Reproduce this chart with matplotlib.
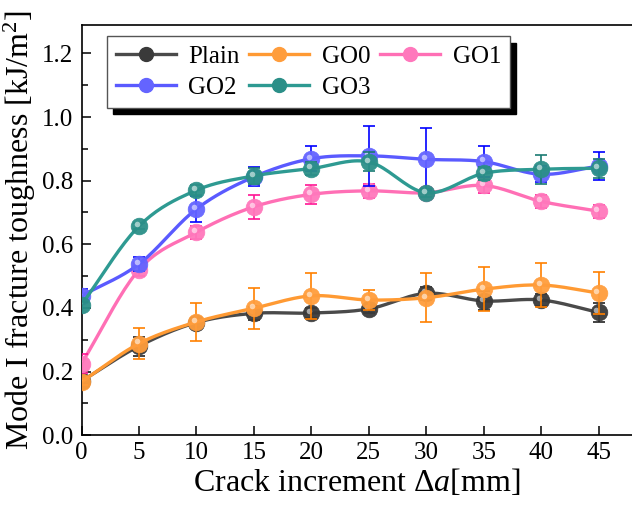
import numpy as np
import matplotlib
matplotlib.use("Agg")
import matplotlib.pyplot as plt
from matplotlib.transforms import offset_copy
from matplotlib.lines import Line2D

plt.rcParams['font.family'] = ['Liberation Serif', 'DejaVu Serif']
plt.rcParams['mathtext.fontset'] = 'custom'
plt.rcParams['mathtext.rm'] = 'Liberation Serif'
plt.rcParams['mathtext.it'] = 'Liberation Serif:italic'

# ---- data ----
crack = [0, 5, 10, 15, 20, 25, 30, 35, 40, 45]
series_names = ["Plain", "GO0", "GO1", "GO2", "GO3"]
plain = [0.170, 0.280, 0.354, 0.383, 0.384, 0.397, 0.446, 0.422, 0.425, 0.386]
plain_err = [0.010, 0.030, 0.015, 0.020, 0.015, 0.012, 0.020, 0.030, 0.020, 0.030]
go0 = [0.168, 0.288, 0.356, 0.399, 0.438, 0.425, 0.432, 0.459, 0.472, 0.447]
go0_err = [0.010, 0.048, 0.060, 0.065, 0.072, 0.030, 0.077, 0.070, 0.070, 0.065]
go1 = [0.225, 0.520, 0.638, 0.718, 0.757, 0.768, 0.762, 0.785, 0.735, 0.704]
go1_err = [0.030, 0.020, 0.020, 0.038, 0.030, 0.023, 0.012, 0.025, 0.020, 0.020]
go2 = [0.438, 0.538, 0.711, 0.812, 0.869, 0.878, 0.867, 0.860, 0.820, 0.846]
go2_err = [0.020, 0.022, 0.040, 0.030, 0.040, 0.095, 0.100, 0.050, 0.025, 0.045]
go3 = [0.410, 0.657, 0.770, 0.815, 0.838, 0.859, 0.762, 0.823, 0.836, 0.839]
go3_err = [0.010, 0.010, 0.015, 0.025, 0.020, 0.030, 0.012, 0.020, 0.045, 0.030]

values = [plain, go0, go1, go2, go3]
errors = [plain_err, go0_err, go1_err, go2_err, go3_err]
line_colors = ["#4a4a4a", "#ff9a33", "#ff6fb5", "#5a5aff", "#2e9a92"]
ball_colors = ["#3a3a3a", "#ff9d3c", "#ff78bc", "#6464ff", "#2b8f88"]
err_colors = ["#222222", "#ff8000", "#ff1493", "#0000ff", "#1a7a72"]


def smooth(x, y, n=20):
    """Catmull-Rom display curve through the data points."""
    x = np.asarray(x, float)
    y = np.asarray(y, float)
    px = np.concatenate([[2 * x[0] - x[1]], x, [2 * x[-1] - x[-2]]])
    py = np.concatenate([[2 * y[0] - y[1]], y, [2 * y[-1] - y[-2]]])
    xs, ys = [], []
    t = np.linspace(0, 1, n, endpoint=False)
    for i in range(1, len(px) - 2):
        for arr, out in ((px, xs), (py, ys)):
            p0, p1, p2, p3 = arr[i - 1], arr[i], arr[i + 1], arr[i + 2]
            out.extend(0.5 * ((2 * p1) + (-p0 + p2) * t +
                              (2 * p0 - 5 * p1 + 4 * p2 - p3) * t ** 2 +
                              (-p0 + 3 * p1 - 3 * p2 + p3) * t ** 3))
    xs.append(x[-1])
    ys.append(y[-1])
    return np.array(xs), np.array(ys)


fig = plt.figure(figsize=(6.32, 5.12), dpi=100)
ax = fig.add_axes([0.129, 0.150, 0.871, 0.8016])

handles = []
for k, (name, v, e) in enumerate(zip(series_names, values, errors)):
    z = 3 + k
    sx, sy = smooth(crack, v)
    ax.plot(sx, sy, color=line_colors[k], lw=2.4, zorder=z, solid_capstyle='butt')
    ax.errorbar(crack, v, yerr=e, fmt='none', ecolor=err_colors[k],
                elinewidth=1.2, capsize=4.5, capthick=1.2, zorder=z + 0.1)
    ax.plot(crack, v, 'o', ms=12, mfc=ball_colors[k], mec=ball_colors[k],
            mew=0.5, zorder=z + 0.2, alpha=0.95)
    hl = offset_copy(ax.transData, fig=fig, x=-1.6, y=1.6, units='points')
    ax.plot(crack, v, 'o', ms=4, mfc='white', mec='none', alpha=0.55,
            transform=hl, zorder=z + 0.3)
    handles.append(Line2D([], [], color=line_colors[k], lw=2.4, marker='o',
                          ms=10, mfc=ball_colors[k], mec=ball_colors[k]))

ax.set_xlim(0, 47.9)
ax.set_ylim(0, 1.29)
ax.set_xticks(crack)
ax.set_yticks(np.arange(0, 1.21, 0.2))
ax.set_yticks(np.arange(0.1, 1.3, 0.2), minor=True)
ax.yaxis.set_major_formatter(matplotlib.ticker.FormatStrFormatter('%.1f'))
ax.tick_params(axis='both', which='major', direction='in', labelsize=18,
               width=1.1, length=6.5)
ax.tick_params(axis='y', which='minor', direction='in', width=1.1, length=4)
ax.tick_params(axis='y', pad=6)
ax.tick_params(axis='x', pad=5)
ax.tick_params(top=False, right=False)
for s in ['left', 'bottom', 'top']:
    ax.spines[s].set_linewidth(1.2)
ax.spines['right'].set_visible(False)

ax.set_xlabel(r'Crack increment $\Delta a$[mm]', fontsize=23, labelpad=2)
ax.set_ylabel(r'Mode I fracture toughness [kJ/m$^2$]', fontsize=23, labelpad=3)

order = [0, 3, 1, 4, 2]
leg = ax.legend([handles[i] for i in order], [series_names[i] for i in order],
                ncol=3, loc='upper left', bbox_to_anchor=(0.046, 0.972),
                borderaxespad=0, fontsize=18, frameon=True, fancybox=False,
                edgecolor='#555555', handlelength=2.4, handletextpad=0.5,
                columnspacing=0.4, labelspacing=0.35, borderpad=0.35,
                shadow={'ox': 4.5, 'oy': -4.5, 'color': 'black', 'alpha': 1})
leg.get_frame().set_linewidth(1.0)
leg.set_zorder(20)

fig.savefig("out.png", dpi=100)
